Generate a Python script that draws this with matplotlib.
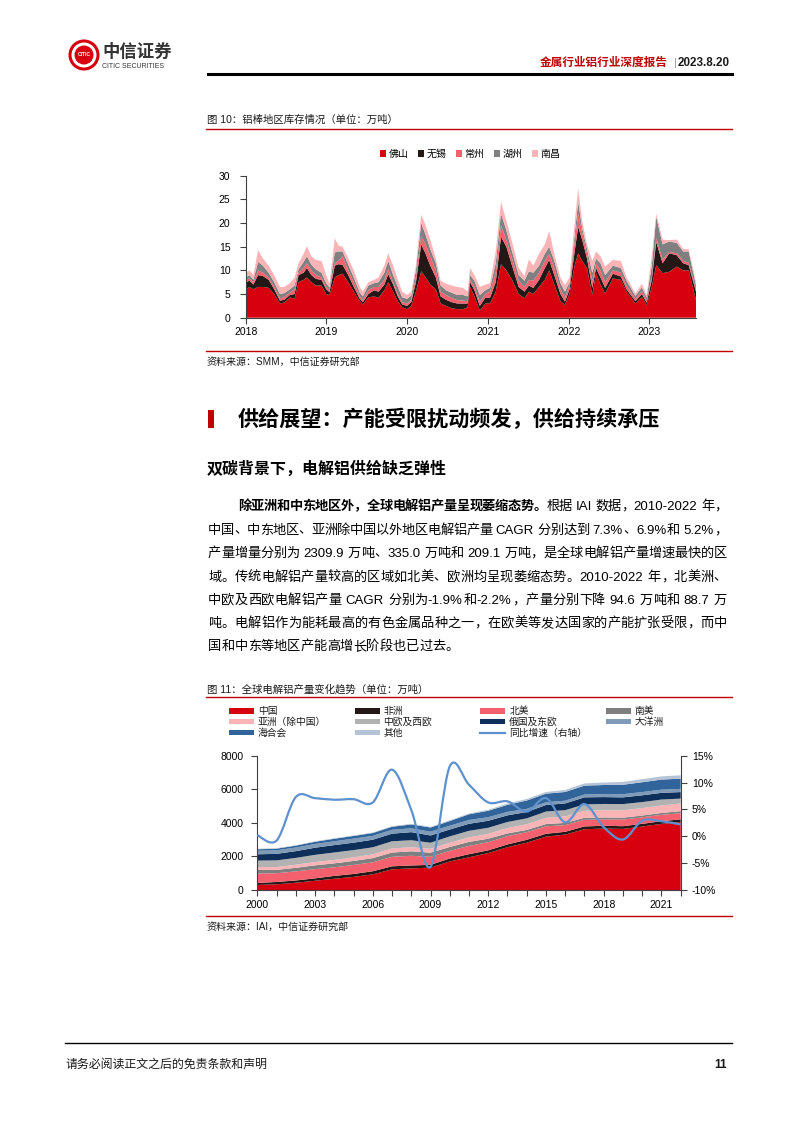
import numpy as np
import pandas as pd
import matplotlib
matplotlib.use('Agg')
import matplotlib.pyplot as plt
from matplotlib.patches import Rectangle, Ellipse, PathPatch
from matplotlib.path import Path
from matplotlib.lines import Line2D

plt.rcParams['font.family'] = ['Liberation Sans', 'Noto Sans CJK SC']

# ---------- data: figure 10 (aluminium bar inventory, 万吨) ----------
dates = ['2018-01-01', '2018-01-18', '2018-02-05', '2018-02-26', '2018-03-20', '2018-04-15',
         '2018-05-10', '2018-06-05', '2018-06-25', '2018-07-20', '2018-08-10', '2018-08-28',
         '2018-09-20', '2018-10-05', '2018-10-25', '2018-11-15', '2018-12-10', '2018-12-31',
         '2019-01-15', '2019-02-08', '2019-02-25', '2019-03-15', '2019-04-10', '2019-05-05',
         '2019-06-01', '2019-06-15', '2019-07-10', '2019-08-05', '2019-08-25', '2019-09-20',
         '2019-10-08', '2019-10-30', '2019-11-20', '2019-12-10',
         '2020-01-01', '2020-01-20', '2020-02-10', '2020-03-05', '2020-03-25', '2020-04-15',
         '2020-05-10', '2020-06-01', '2020-06-25', '2020-07-20', '2020-08-15', '2020-09-10',
         '2020-10-01', '2020-10-12', '2020-11-01', '2020-11-25', '2020-12-20',
         '2021-01-10', '2021-02-05', '2021-03-01', '2021-03-25', '2021-04-20', '2021-05-20',
         '2021-06-15', '2021-07-05', '2021-07-25', '2021-08-20', '2021-09-15', '2021-10-05',
         '2021-10-28', '2021-11-25', '2021-12-15',
         '2022-01-05', '2022-01-28', '2022-02-13', '2022-03-03', '2022-03-25', '2022-04-18',
         '2022-05-05', '2022-05-25', '2022-06-15', '2022-07-20', '2022-08-25', '2022-09-20',
         '2022-10-30', '2022-11-28', '2022-12-20',
         '2023-01-12', '2023-02-01', '2023-03-02', '2023-04-01', '2023-05-05', '2023-06-03',
         '2023-06-28', '2023-07-31']

foshan = [6.0, 6.5, 6.0, 6.5, 6.5, 6.3, 5.0, 3.0, 3.2, 4.3, 4.0, 7.5, 8.0, 8.5, 7.5, 6.8, 6.8, 5.0,
          4.8, 8.5, 9.0, 9.3, 7.5, 5.5, 3.5, 2.8, 4.3, 4.5, 4.2, 5.8, 7.5, 5.5, 3.5, 2.2,
          1.8, 2.5, 5.5, 9.8, 8.5, 7.0, 6.0, 3.0, 2.5, 2.0, 1.8, 1.8, 2.2, 6.5, 4.5, 1.5, 3.0,
          3.0, 5.5, 11.3, 10.0, 8.0, 5.0, 4.1, 5.5, 5.0, 6.5, 8.0, 10.0, 7.0, 3.5, 2.7,
          5.1, 11.0, 13.6, 12.0, 10.5, 4.8, 9.4, 7.0, 5.1, 8.3, 8.0, 5.5, 3.0, 4.4, 2.7,
          6.5, 11.1, 9.4, 9.7, 10.8, 10.0, 10.0, 3.7]
wuxi = [1.5, 1.3, 1.0, 2.5, 2.3, 1.7, 1.0, 0.6, 0.6, 0.5, 1.0, 1.5, 1.5, 2.0, 1.5, 1.4, 1.2, 1.0,
        0.6, 2.5, 2.3, 1.9, 1.5, 1.0, 0.5, 0.5, 0.7, 1.3, 1.3, 1.2, 1.7, 1.5, 1.0, 0.6,
        0.7, 0.8, 2.0, 5.7, 5.0, 4.0, 2.5, 1.5, 1.3, 1.3, 1.2, 1.2, 0.8, 1.0, 1.3, 1.0, 1.2,
        1.2, 2.0, 5.8, 5.0, 3.0, 1.5, 1.4, 1.3, 1.3, 1.5, 2.5, 2.2, 2.0, 1.5, 0.7,
        0.9, 3.0, 5.6, 4.5, 2.0, 1.5, 1.1, 1.5, 1.2, 1.0, 0.7, 0.5, 0.5, 0.6, 0.5,
        1.5, 4.9, 2.1, 3.9, 2.4, 1.5, 1.1, 1.8]
changzhou = [0.5, 0.5, 0.5, 1.0, 0.7, 0.5, 0.5, 0.5, 0.6, 0.5, 1.0, 0.5, 1.0, 1.0, 1.0, 0.8, 0.5, 0.5,
             0.5, 0.5, 0.7, 1.8, 1.0, 1.0, 0.5, 0.5, 0.8, 0.7, 1.0, 1.0, 1.0, 0.5, 0.5, 0.5,
             0.5, 0.5, 1.0, 1.8, 2.0, 2.0, 1.5, 1.0, 1.0, 0.9, 0.7, 0.6, 0.5, 0.5, 0.7, 0.8, 0.8,
             1.3, 2.0, 2.4, 1.5, 1.5, 1.3, 1.0, 1.2, 1.5, 1.5, 1.5, 1.3, 1.5, 1.0, 0.8,
             1.0, 2.0, 2.8, 1.5, 1.0, 1.5, 1.0, 1.5, 1.2, 0.7, 0.8, 0.8, 0.5, 0.6, 0.5,
             0.5, 0.8, 0.8, 0.3, 0.4, 0.5, 0.5, 0.5]
huzhou = [0.5, 0.7, 0.5, 1.8, 1.5, 1.0, 1.0, 0.9, 0.8, 0.7, 0.8, 0.7, 1.3, 1.5, 1.2, 1.2, 1.0, 0.8,
          0.5, 2.3, 2.0, 1.0, 1.2, 1.0, 0.8, 0.7, 1.0, 0.8, 1.0, 1.5, 1.8, 1.5, 1.5, 1.0,
          1.0, 0.9, 1.5, 2.7, 2.0, 1.5, 1.5, 1.3, 1.0, 1.1, 1.1, 1.2, 1.0, 1.0, 1.3, 1.5, 0.8,
          0.8, 2.0, 2.5, 2.0, 1.5, 1.2, 1.3, 1.8, 1.7, 1.5, 1.5, 1.5, 1.5, 1.3, 1.3,
          0.5, 1.5, 2.5, 1.0, 1.0, 1.7, 1.0, 1.5, 1.5, 1.0, 1.0, 1.0, 0.6, 0.8, 0.6,
          2.5, 4.5, 3.2, 2.2, 2.2, 2.0, 2.4, 0.8]
nanchang = [1.0, 1.0, 1.0, 2.5, 1.5, 1.5, 1.5, 1.5, 1.3, 1.3, 1.7, 1.3, 1.7, 2.1, 1.8, 2.0, 2.5, 1.7,
            0.8, 3.0, 1.2, 1.0, 1.3, 1.5, 1.2, 1.0, 0.7, 0.7, 1.0, 1.5, 1.6, 2.0, 1.5, 1.2,
            0.8, 0.8, 1.0, 1.8, 2.0, 2.0, 1.0, 1.0, 1.4, 1.5, 1.7, 1.5, 1.0, 1.5, 1.2, 1.7, 1.2,
            1.0, 2.5, 2.5, 2.0, 2.0, 1.5, 1.0, 2.5, 1.5, 2.5, 2.0, 3.3, 1.5, 1.2, 1.4,
            1.0, 2.5, 2.8, 1.5, 1.0, 2.5, 1.5, 1.5, 1.8, 1.2, 1.5, 0.7, 0.5, 0.8, 0.5,
            2.0, 0.7, 1.0, 0.3, 0.7, 0.5, 0.5, 0.7]
inv_labels = ['佛山', '无锡', '常州', '湖州', '南昌']
inv_colors = ['#d7000f', '#231815', '#f5606e', '#808080', '#fbb4b6']

# ---------- data: figure 11 (global primary aluminium output, 万吨) ----------
years = list(range(2000, 2023))
china = [300, 340, 430, 550, 670, 780, 930, 1230, 1290, 1330, 1700, 1950, 2200, 2550, 2820, 3180,
         3300, 3620, 3660, 3640, 3780, 3940, 4050]
africa = [118, 137, 137, 143, 171, 175, 186, 182, 171, 168, 174, 183, 163, 165, 169, 169, 167, 167,
          165, 162, 160, 158, 160]
north_america = [560, 522, 541, 550, 511, 538, 533, 564, 578, 476, 459, 497, 486, 493, 454, 447, 395,
                 395, 377, 393, 393, 380, 365]
south_america = [217, 197, 212, 226, 236, 239, 249, 256, 266, 251, 231, 236, 207, 164, 134, 132, 135,
                 118, 117, 113, 102, 110, 120]
asia_ex_china = [170, 175, 185, 195, 205, 215, 225, 245, 240, 230, 250, 270, 290, 320, 340, 370, 390,
                 420, 430, 440, 445, 450, 459]
europe_cw = [387, 393, 406, 429, 441, 429, 420, 426, 420, 360, 379, 388, 360, 360, 350, 375, 370, 380,
             376, 370, 357, 350, 290]
russia_ee = [376, 389, 403, 426, 442, 444, 452, 453, 482, 433, 411, 421, 418, 396, 380, 390, 400, 420,
             410, 400, 405, 400, 390]
oceania = [209, 213, 217, 222, 226, 239, 229, 232, 227, 225, 228, 225, 215, 205, 183, 165, 163, 168,
           179, 190, 193, 190, 190]
gcc = [90, 95, 110, 130, 150, 160, 170, 180, 230, 250, 273, 340, 380, 420, 500, 510, 520, 530, 540,
       560, 585, 600, 608]
others = [30, 30, 30, 30, 30, 30, 30, 30, 40, 40, 50, 50, 60, 80, 90, 100, 120, 130, 150, 170, 180,
          190, 200]
yoy = [0.2, -0.8, 7.3, 7.1, 6.8, 6.9, 6.3, 12.4, 4.9, -5.7, 13.0, 9.6, 6.3, 6.5, 4.6, 7.1, 2.6, 6.0,
       1.7, -0.6, 2.9, 2.8, 2.2]
region_labels = ['中国', '非洲', '北美', '南美', '亚洲（除中国）', '中欧及西欧', '俄国及东欧',
                 '大洋洲', '海合会', '其他']
region_colors = ['#d7000f', '#231815', '#f5606e', '#7f7f7f', '#fbb4b6', '#b2b2b2', '#0e2f5a',
                 '#7f9bb8', '#30649a', '#b5c3d6']
line_label = '同比增速（右轴）'
line_color = '#5f91cf'

W, H = 794, 1123


def fx(x):
    return x / W


def fy(y):
    return 1 - y / H


fig = plt.figure(figsize=(7.94, 11.23), dpi=100)
red = '#c00000'
axis_col = '#404040'

# ---------- header ----------
fig.add_artist(Ellipse((fx(84), fy(55)), 28 / W, 28 / H, transform=fig.transFigure,
                       facecolor='white', edgecolor='#d7000f', lw=2.2))
fig.add_artist(Ellipse((fx(84), fy(55)), 19 / W, 19 / H, transform=fig.transFigure,
                       facecolor='#d7000f', edgecolor='none'))
fig.text(fx(84), fy(55), 'CITIC', fontsize=3.6, color='white', fontweight='bold',
         ha='center', va='center')
fig.text(fx(102), fy(51), '中信证券', fontsize=12.5, fontweight='bold', color='#333333', va='center')
fig.text(fx(102), fy(66), 'CITIC SECURITIES', fontsize=5, color='#333333', va='center')
fig.text(fx(668), fy(63), '金属行业铝行业深度报告', fontsize=8.4, fontweight='bold', color=red,
         ha='right', va='center')
fig.text(fx(675), fy(63), '|', fontsize=8, color='#999999', ha='center', va='center')
fig.text(fx(730), fy(63), '2023.8.20', fontsize=8.4, fontweight='bold', color='#1a1a1a',
         ha='right', va='center')
fig.add_artist(Line2D([fx(208), fx(732)], [fy(74), fy(74)], color='black', lw=2.2))

# ---------- figure 10 ----------
fig.text(fx(207), fy(120), '图 10：铝棒地区库存情况（单位：万吨）', fontsize=7.5, color='#1a1a1a',
         va='center')
fig.add_artist(Line2D([fx(206), fx(732)], [fy(128.5), fy(128.5)], color=red, lw=1.0))

ax1 = fig.add_axes([fx(245.7), fy(317.7), (696 - 245.7) / W, (317.7 - 175.7) / H])
d = pd.to_datetime(dates)
polys = ax1.stackplot(d, foshan, wuxi, changzhou, huzhou, nanchang, colors=inv_colors,
                      labels=inv_labels, linewidth=0)
ax1.set_xlim(d[0], d[-1])
ax1.set_ylim(0, 30)
ax1.set_yticks(range(0, 31, 5))
tick_years = pd.to_datetime([f'{y}-01-01' for y in range(2018, 2024)])
ax1.set_xticks(tick_years)
ax1.set_xticklabels([str(y) for y in range(2018, 2024)])
for s in ['top', 'right']:
    ax1.spines[s].set_visible(False)
for s in ['left', 'bottom']:
    ax1.spines[s].set_color(axis_col)
    ax1.spines[s].set_linewidth(0.8)
ax1.tick_params(axis='y', direction='out', length=4, width=0.8, color=axis_col, labelsize=7.5, pad=7)
ax1.tick_params(axis='x', direction='out', length=4, width=0.8, color=axis_col, labelsize=7.5, pad=3)
ax1.legend(loc='center', bbox_to_anchor=(fx(470), fy(154)), bbox_transform=fig.transFigure,
           ncol=5, frameon=False, fontsize=7.2, handlelength=0.6, handleheight=0.6,
           handletextpad=0.3, columnspacing=0.9, borderpad=0)

fig.add_artist(Line2D([fx(206), fx(732)], [fy(350.5), fy(350.5)], color=red, lw=1.0))
fig.text(fx(207), fy(362), '资料来源：SMM，中信证券研究部', fontsize=7.2, color='#1a1a1a', va='center')

# ---------- section heading ----------
fig.add_artist(Rectangle((fx(208), fy(428)), 6 / W, 18 / H, transform=fig.transFigure,
                         facecolor=red, edgecolor='none'))
fig.text(fx(238), fy(419), '供给展望：产能受限扰动频发，供给持续承压', fontsize=15.2,
         fontweight='bold', color='black', va='center')
fig.text(fx(207), fy(469), '双碳背景下，电解铝供给缺乏弹性', fontsize=11.5, fontweight='bold',
         color='black', va='center')

# ---------- body text (justified) ----------
renderer = fig.canvas.get_renderer()
body_size = 9.5
em = body_size * 100 / 72


def split_tokens(s):
    out, buf = [], ''
    for ch in s:
        if ord(ch) < 128 and ch != ' ':
            buf += ch
        else:
            if buf:
                out.append(buf)
                buf = ''
            out.append(ch)
    if buf:
        out.append(buf)
    return out


def put_line(segs, x0, x1, yc, justify=True):
    base = yc + 0.36 * em
    items = []
    for s, wt in segs:
        for t in split_tokens(s):
            items.append((t, wt))
    arts, widths = [], []
    for t, wt in items:
        if t == ' ':
            arts.append(None)
            widths.append(0.28 * em)
        elif ord(t[0]) >= 128:
            a = fig.text(0, fy(base), t, fontsize=body_size, fontweight=wt, va='baseline',
                         ha='left', color='black')
            arts.append(a)
            widths.append(em)
        else:
            a = fig.text(0, fy(base), t, fontsize=body_size, fontweight=wt, va='baseline',
                         ha='left', color='black')
            arts.append(a)
            widths.append(a.get_window_extent(renderer).width + 0.6)
    gap = (x1 - x0 - sum(widths)) / (len(items) - 1) if justify else 0
    x = x0
    for a, w in zip(arts, widths):
        if a is not None:
            a.set_x(fx(x))
        x += w + gap


body = [
    ([('除亚洲和中东地区外，全球电解铝产量呈现萎缩态势。', 'bold'), ('根据 IAI 数据，2010-2022 年，', 'normal')], 238, True),
    ([('中国、中东地区、亚洲除中国以外地区电解铝产量 CAGR 分别达到 7.3%、6.9%和 5.2%，', 'normal')], 208, True),
    ([('产量增量分别为 2309.9 万吨、335.0 万吨和 209.1 万吨，是全球电解铝产量增速最快的区', 'normal')], 208, True),
    ([('域。传统电解铝产量较高的区域如北美、欧洲均呈现萎缩态势。2010-2022 年，北美洲、', 'normal')], 208, True),
    ([('中欧及西欧电解铝产量 CAGR 分别为-1.9%和-2.2%，产量分别下降 94.6 万吨和 88.7 万', 'normal')], 208, True),
    ([('吨。电解铝作为能耗最高的有色金属品种之一，在欧美等发达国家的产能扩张受限，而中', 'normal')], 208, True),
    ([('国和中东等地区产能高增长阶段也已过去。', 'normal')], 208, False),
]
line_y = [505, 529, 552, 576, 599, 622, 645]
for (segs, x0, just), yc in zip(body, line_y):
    put_line(segs, x0, 727, yc, just)

# ---------- figure 11 ----------
fig.text(fx(207), fy(689), '图 11：全球电解铝产量变化趋势（单位：万吨）', fontsize=7.5,
         color='#1a1a1a', va='center')
fig.add_artist(Line2D([fx(206), fx(732)], [fy(697), fy(697)], color=red, lw=1.0))

ax2 = fig.add_axes([fx(257.3), fy(890), (680.7 - 257.3) / W, (890 - 755.7) / H])
ax2.stackplot(years, china, africa, north_america, south_america, asia_ex_china, europe_cw,
              russia_ee, oceania, gcc, others, colors=region_colors, labels=region_labels,
              linewidth=0)
ax2.set_xlim(2000, 2022)
ax2.set_ylim(0, 8000)
ax2.set_yticks(range(0, 8001, 2000))
ax2.set_xticks(years)
ax2.set_xticklabels([str(y) if (y - 2000) % 3 == 0 else '' for y in years])
for s in ['top', 'right']:
    ax2.spines[s].set_visible(False)
for s in ['left', 'bottom']:
    ax2.spines[s].set_color(axis_col)
    ax2.spines[s].set_linewidth(0.8)
ax2.tick_params(axis='y', direction='out', length=4, width=0.8, color=axis_col, labelsize=7.5, pad=6)
ax2.tick_params(axis='x', direction='out', length=4, width=0.8, color=axis_col, labelsize=7.5, pad=3)

ax3 = ax2.twinx()
ax3.set_ylim(-10, 15)
ax3.set_yticks(range(-10, 16, 5))
ax3.set_yticklabels([f'{v}%' for v in range(-10, 16, 5)])
for s in ['top', 'left', 'bottom']:
    ax3.spines[s].set_visible(False)
ax3.spines['right'].set_color(axis_col)
ax3.spines['right'].set_linewidth(0.8)
ax3.tick_params(axis='y', direction='out', length=4, width=0.8, color=axis_col, labelsize=7.5, pad=4)


def smooth_path(xs, ys):
    xs = np.asarray(xs, float)
    ys = np.asarray(ys, float)
    px = np.concatenate([[xs[0]], xs, [xs[-1]]])
    py = np.concatenate([[ys[0]], ys, [ys[-1]]])
    verts = [(xs[0], ys[0])]
    codes = [Path.MOVETO]
    for i in range(1, len(px) - 2):
        c1 = (px[i] + (px[i + 1] - px[i - 1]) / 6, py[i] + (py[i + 1] - py[i - 1]) / 6)
        c2 = (px[i + 1] - (px[i + 2] - px[i]) / 6, py[i + 1] - (py[i + 2] - py[i]) / 6)
        verts += [c1, c2, (px[i + 1], py[i + 1])]
        codes += [Path.CURVE4] * 3
    return Path(verts, codes)


ax3.add_patch(PathPatch(smooth_path(years, yoy), facecolor='none', edgecolor=line_color, lw=1.6))

# legend of figure 11 (4 columns, row-major like the source)
leg_items = list(zip(region_labels, region_colors)) + [(line_label, line_color)]
for i, (lab, col) in enumerate(leg_items):
    row, c = divmod(i, 4)
    x = 229 + c * 125.6
    y = 711 + row * 10.8
    if lab == line_label:
        fig.add_artist(Line2D([fx(x), fx(x + 25)], [fy(y), fy(y)], color=col, lw=1.6))
    else:
        fig.add_artist(Rectangle((fx(x), fy(y + 2.6)), 25 / W, 5.2 / H, transform=fig.transFigure,
                                 facecolor=col, edgecolor='none'))
    fig.text(fx(x + 29), fy(y), lab, fontsize=7, color='#1a1a1a', va='center')

fig.add_artist(Line2D([fx(206), fx(732)], [fy(916), fy(916)], color=red, lw=1.0))
fig.text(fx(207), fy(927), '资料来源：IAI，中信证券研究部', fontsize=7.2, color='#1a1a1a', va='center')

# ---------- footer ----------
fig.add_artist(Line2D([fx(65), fx(732)], [fy(1043), fy(1043)], color='black', lw=1.0))
fig.text(fx(66), fy(1065), '请务必阅读正文之后的免责条款和声明', fontsize=8.6, color='#1a1a1a',
         va='center')
fig.text(fx(727), fy(1065), '11', fontsize=8.6, fontweight='bold', color='#1a1a1a', ha='right',
         va='center')

fig.savefig('out.png', dpi=100)
